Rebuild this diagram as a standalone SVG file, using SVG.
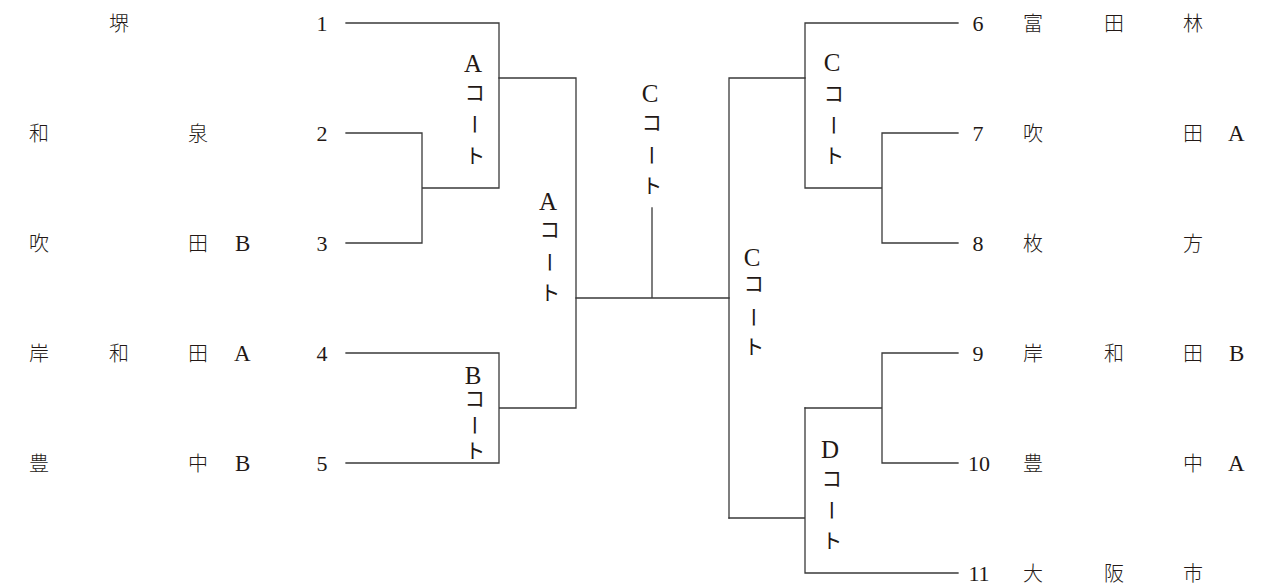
<svg xmlns="http://www.w3.org/2000/svg" width="1278" height="588" viewBox="0 0 1278 588">
<style>
  .ln { stroke:#3a3a3a; stroke-width:1.3; fill:none; stroke-linecap:square; }
  .t { font-family:"Liberation Serif","Noto Sans CJK JP",serif; font-size:23px; fill:#231815; }
  .k { font-family:"Noto Sans CJK JP","Liberation Serif",sans-serif; font-size:20px; fill:#231815; font-weight:300; }
  .n { font-family:"Liberation Serif",serif; font-size:22px; fill:#231815; text-anchor:middle; }
  .v { font-family:"Liberation Serif","Noto Sans CJK JP",serif; font-size:21px; fill:#231815; writing-mode:vertical-rl; text-orientation:upright; }
  .vl { font-size:25px; }
</style>
<rect width="1278" height="588" fill="#ffffff"/>
<g id="connectors" class="ln">
  <path d="M346 23H499V188M346 133H422V243H346M422 188H499"/>
  <path d="M499 78H576V408M346 353H499V463H346M499 408H576"/>
  <path d="M576 298H729M652 208V298"/>
  <path d="M958 23H805V188M958 133H882V243H958M882 188H805"/>
  <path d="M805 78H729V518M958 353H882V463H958M882 408H805"/>
  <path d="M729 518H805M805 408V573H958"/>
</g>
<g id="team1"><text class="k" x="109" y="31">堺</text><text class="n" x="322" y="31">1</text></g>
<g id="team2"><text class="k" x="29" y="141">和</text><text class="k" x="188" y="141">泉</text><text class="n" x="322" y="141">2</text></g>
<g id="team3"><text class="k" x="29" y="251">吹</text><text class="k" x="188" y="251">田</text><text class="t" x="235" y="251">B</text><text class="n" x="322" y="251">3</text></g>
<g id="team4"><text class="k" x="29" y="361">岸</text><text class="k" x="109" y="361">和</text><text class="k" x="188" y="361">田</text><text class="t" x="234" y="361">A</text><text class="n" x="322" y="361">4</text></g>
<g id="team5"><text class="k" x="29" y="471">豊</text><text class="k" x="188" y="471">中</text><text class="t" x="235" y="471">B</text><text class="n" x="322" y="471">5</text></g>
<g id="team6"><text class="n" x="978" y="31">6</text><text class="k" x="1023" y="31">富</text><text class="k" x="1104" y="31">田</text><text class="k" x="1183" y="31">林</text></g>
<g id="team7"><text class="n" x="978" y="141">7</text><text class="k" x="1023" y="141">吹</text><text class="k" x="1183" y="141">田</text><text class="t" x="1228" y="141">A</text></g>
<g id="team8"><text class="n" x="978" y="251">8</text><text class="k" x="1023" y="251">枚</text><text class="k" x="1183" y="251">方</text></g>
<g id="team9"><text class="n" x="978" y="361">9</text><text class="k" x="1023" y="361">岸</text><text class="k" x="1104" y="361">和</text><text class="k" x="1183" y="361">田</text><text class="t" x="1229" y="361">B</text></g>
<g id="team10"><text class="n" x="979" y="471">10</text><text class="k" x="1023" y="471">豊</text><text class="k" x="1183" y="471">中</text><text class="t" x="1228" y="471">A</text></g>
<g id="team11"><text class="n" x="979" y="581">11</text><text class="k" x="1023" y="581">大</text><text class="k" x="1104" y="581">阪</text><text class="k" x="1183" y="581">市</text></g>
<g id="court-a1"><text class="v" x="473" y="50 82 114 145"><tspan class="vl">A</tspan>コート</text></g>
<g id="court-b"><text class="v" x="473" y="362 388 415 440"><tspan class="vl">B</tspan>コート</text></g>
<g id="court-a2"><text class="v" x="548" y="188 219 252 282"><tspan class="vl">A</tspan>コート</text></g>
<g id="court-c-final"><text class="v" x="650" y="80 112 145 175"><tspan class="vl">C</tspan>コート</text></g>
<g id="court-c1"><text class="v" x="832" y="49 83 115 145"><tspan class="vl">C</tspan>コート</text></g>
<g id="court-c2"><text class="v" x="752" y="244 273 307 336"><tspan class="vl">C</tspan>コート</text></g>
<g id="court-d"><text class="v" x="830" y="436 468 500 530"><tspan class="vl">D</tspan>コート</text></g>
</svg>
